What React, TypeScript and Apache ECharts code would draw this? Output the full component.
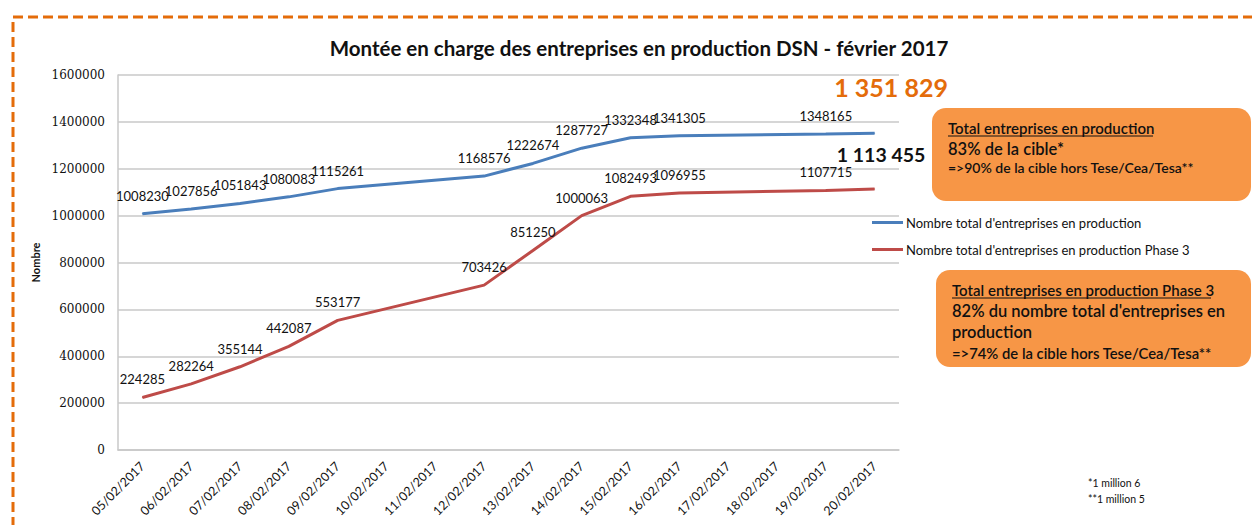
import React, { useEffect, useRef } from "react";
import * as echarts from "echarts";

const categories = [
  "05/02/2017", "06/02/2017", "07/02/2017", "08/02/2017", "09/02/2017", "10/02/2017",
  "11/02/2017", "12/02/2017", "13/02/2017", "14/02/2017", "15/02/2017", "16/02/2017",
  "17/02/2017", "18/02/2017", "19/02/2017", "20/02/2017",
];
const totalValues = [
  1008230, 1027856, 1051843, 1080083, 1115261, null, null, 1168576, 1222674, 1287727,
  1332348, 1341305, null, null, 1348165, 1351829,
];
const phase3Values = [
  224285, 282264, 355144, 442087, 553177, null, null, 703426, 851250, 1000063,
  1082493, 1096955, null, null, 1107715, 1113455,
];
const seriesNames = [
  "Nombre total d'entreprises en production",
  "Nombre total d'entreprises en production Phase 3",
];
const yTicks = { min: 0, max: 1600000, interval: 200000 };
const title = "Montée en charge des entreprises en production DSN - février 2017";
const box1Lines = [
  "Total entreprises en production",
  "83% de la cible*",
  "=>90% de la cible hors Tese/Cea/Tesa**",
];
const box2Lines = [
  "Total entreprises en production Phase 3",
  "82% du nombre total d'entreprises en",
  "production",
  "=>74% de la cible hors Tese/Cea/Tesa**",
];
const footnotes = ["*1 million 6", "**1 million 5"];

const BLUE = "#4A7EBB";
const RED = "#BE4B48";
const ORANGE_BOX = "#F79646";
const FONT = "Lato, 'Open Sans', sans-serif";

const spaced = (v: number) => String(v).replace(/\B(?=(\d{3})+(?!\d))/g, " ");

function buildData(values: (number | null)[], lastLabel: any) {
  const last = values.length - 1;
  return values.map((v, i) => (i === last ? { value: v, label: lastLabel } : v));
}

export default function App() {
  const ref = useRef<HTMLDivElement>(null);
  useEffect(() => {
    document.body.style.margin = "0";
    if (!ref.current) return;
    const chart = echarts.init(ref.current, null, { renderer: "svg" });
    const baseLabel = {
      show: true,
      position: "top",
      distance: 11,
      color: "#111",
      fontFamily: FONT,
      fontSize: 13,
    };
    const textStyle = (size: number, weight: any = "normal") => ({
      fill: "#111",
      font: `${weight} ${size}px ${FONT}`,
    });
    const lineSeries = (name: string, color: string, values: (number | null)[], lastLabel: any) => ({
      name,
      type: "line",
      connectNulls: true,
      showSymbol: true,
      symbol: "circle",
      symbolSize: 1,
      lineStyle: { color, width: 3 },
      itemStyle: { color },
      label: baseLabel,
      labelLayout: { hideOverlap: false },
      data: buildData(values, lastLabel),
    });
    chart.setOption({
      animation: false,
      backgroundColor: "#fff",
      title: {
        text: title,
        left: 634,
        textAlign: "center",
        top: 32,
        textStyle: { fontFamily: FONT, fontSize: 20.5, fontWeight: "bold", color: "#111" },
      },
      grid: { left: 118, right: 353, top: 75, bottom: 75, containLabel: false },
      legend: {
        orient: "vertical",
        left: 867,
        top: 211,
        itemGap: 14,
        itemWidth: 31,
        itemHeight: 3,
        icon: "rect",
        textStyle: { fontFamily: FONT, fontSize: 13, color: "#111", padding: [0, 0, 0, -2] },
        data: seriesNames,
      },
      xAxis: {
        type: "category",
        data: categories,
        boundaryGap: true,
        axisLine: { lineStyle: { color: "#C8C8C8", width: 1.5 } },
        axisTick: { show: false },
        axisLabel: {
          rotate: 45,
          interval: 0,
          margin: 14,
          color: "#111",
          fontFamily: FONT,
          fontSize: 12.5,
        },
      },
      yAxis: {
        type: "value",
        min: yTicks.min,
        max: yTicks.max,
        interval: yTicks.interval,
        name: "Nombre",
        nameLocation: "middle",
        nameGap: 54,
        nameTextStyle: { fontFamily: FONT, fontSize: 11, fontWeight: "bold", color: "#111" },
        axisLine: { show: true, lineStyle: { color: "#C8C8C8", width: 1.5 } },
        axisTick: { show: false },
        splitLine: { lineStyle: { color: "#C8C8C8", width: 1.5 } },
        axisLabel: {
          margin: 13,
          color: "#111",
          fontFamily: "'DejaVu Serif', serif",
          fontSize: 12,
          formatter: (v: number) => String(v),
        },
      },
      series: [
        lineSeries(seriesNames[0], BLUE, totalValues, {
          show: true,
          position: [17, -46],
          align: "center",
          verticalAlign: "middle",
          color: "#E46C0A",
          fontFamily: FONT,
          fontSize: 25,
          fontWeight: "bold",
          formatter: (p: any) => spaced(p.value),
        }),
        lineSeries(seriesNames[1], RED, phase3Values, {
          show: true,
          position: [7, -34],
          align: "center",
          verticalAlign: "middle",
          color: "#111",
          fontFamily: FONT,
          fontSize: 19.5,
          fontWeight: "bold",
          formatter: (p: any) => spaced(p.value),
        }),
      ],
      graphic: [
        {
          type: "rect",
          silent: true,
          shape: { x: 13, y: 17, width: 1400, height: 700 },
          style: { fill: "none", stroke: "#E46C0A", lineWidth: 3, lineDash: [10, 5] },
        },
        {
          type: "rect",
          shape: { x: 932, y: 108, width: 319, height: 93, r: 14 },
          style: { fill: ORANGE_BOX },
        },
        { type: "text", x: 948, y: 120, style: { text: box1Lines[0], ...textStyle(15, 600) } },
        { type: "line", shape: { x1: 948, y1: 136, x2: 1153, y2: 136 }, style: { stroke: "#111", lineWidth: 1 } },
        { type: "text", x: 948, y: 140, style: { text: box1Lines[1], ...textStyle(16.5, 600) } },
        { type: "text", x: 948, y: 160, style: { text: box1Lines[2], ...textStyle(14, 600) } },
        {
          type: "rect",
          shape: { x: 936, y: 270, width: 315, height: 97, r: 14 },
          style: { fill: ORANGE_BOX },
        },
        { type: "text", x: 952, y: 282, style: { text: box2Lines[0], ...textStyle(15, 600) } },
        { type: "line", shape: { x1: 952, y1: 298, x2: 1211, y2: 298 }, style: { stroke: "#111", lineWidth: 1 } },
        { type: "text", x: 952, y: 302, style: { text: box2Lines[1], ...textStyle(16.5, 600) } },
        { type: "text", x: 952, y: 323, style: { text: box2Lines[2], ...textStyle(16.5, 600) } },
        { type: "text", x: 952, y: 345, style: { text: box2Lines[3], ...textStyle(14.8, 600) } },
        { type: "text", x: 1088, y: 477, style: { text: footnotes[0], ...textStyle(10.5) } },
        { type: "text", x: 1088, y: 493, style: { text: footnotes[1], ...textStyle(10.5) } },
      ],
    });
    return () => chart.dispose();
  }, []);
  return <div ref={ref} style={{ width: 1252, height: 525 }} />;
}
